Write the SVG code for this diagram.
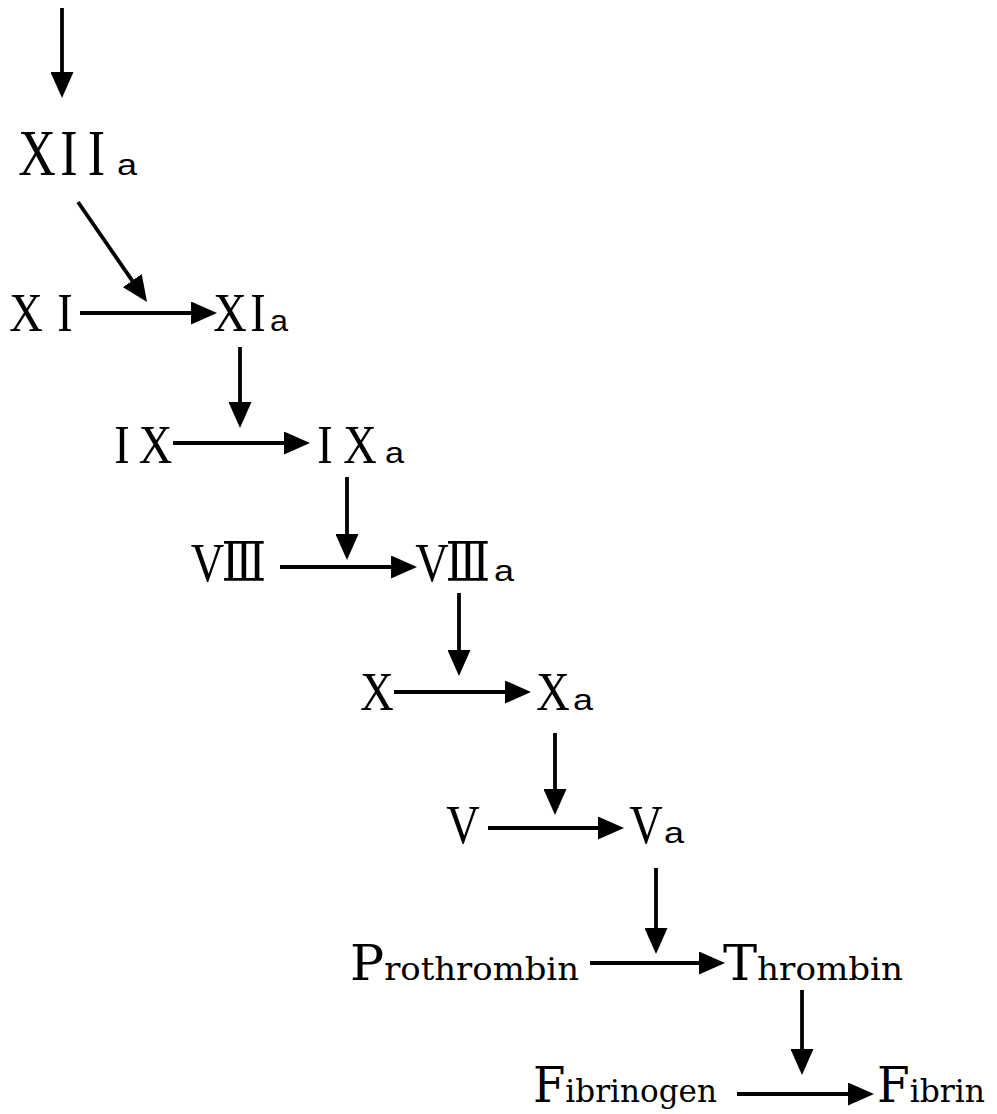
<svg xmlns="http://www.w3.org/2000/svg" width="997" height="1114" viewBox="0 0 997 1114">
<style>
.rn{font-family:"Liberation Serif","DejaVu Serif",serif;font-size:54px;fill:#000;text-anchor:middle}
.sub{font-family:"Liberation Sans","DejaVu Sans",sans-serif;font-size:29px;fill:#000}
.wd{font-family:"DejaVu Serif","Liberation Serif",serif;fill:#000}
.cap{font-size:48px}
.lc{font-size:32px}
.ar{stroke:#000;stroke-width:3.8;fill:none;marker-end:url(#ah)}
</style>
<defs>
<marker id="ah" markerUnits="userSpaceOnUse" markerWidth="26" markerHeight="23" refX="20" refY="11.5" orient="auto">
<path d="M0,0 L26,11.5 L0,23 Z" fill="#000"/>
</marker>
</defs>
<rect width="997" height="1114" fill="#fff"/>
<g id="connectors">
<line class="ar" x1="62" y1="8" x2="62" y2="92"/>
<line class="ar" x1="78" y1="202" x2="143.6" y2="297.1"/>
<line class="ar" x1="80" y1="313" x2="211" y2="313"/>
<line class="ar" x1="240" y1="347" x2="240" y2="422"/>
<line class="ar" x1="173" y1="443" x2="304" y2="443"/>
<line class="ar" x1="347" y1="477" x2="347" y2="554"/>
<line class="ar" x1="280" y1="567" x2="411" y2="567"/>
<line class="ar" x1="459" y1="593" x2="459" y2="670"/>
<line class="ar" x1="394" y1="692" x2="525" y2="692"/>
<line class="ar" x1="555" y1="733" x2="555" y2="809"/>
<line class="ar" x1="488" y1="828" x2="618" y2="828"/>
<line class="ar" x1="656" y1="868" x2="656" y2="948"/>
<line class="ar" x1="590" y1="963" x2="719" y2="963"/>
<line class="ar" x1="802" y1="990" x2="802" y2="1069"/>
<line class="ar" x1="737" y1="1094" x2="868" y2="1094"/>
</g>
<g id="XIIa">
<text class="rn" style="font-size:65px" transform="translate(0,175) scale(0.8,1)" x="46.25 86.25 120.6" y="0">XII</text>
<text class="sub" x="117" y="175" textLength="20" lengthAdjust="spacingAndGlyphs">a</text>
</g>
<g id="XI">
<text class="rn" transform="translate(0,331) scale(0.86,1)" x="30.23 75.58" y="0">XI</text>
</g>
<g id="XIa">
<text class="rn" transform="translate(0,331) scale(0.86,1)" x="267.44 300" y="0">XI</text>
<text class="sub" x="270" y="331" textLength="18" lengthAdjust="spacingAndGlyphs">a</text>
</g>
<g id="IX">
<text class="rn" transform="translate(0,463) scale(0.86,1)" x="141.86 180.81" y="0">IX</text>
</g>
<g id="IXa">
<text class="rn" transform="translate(0,463) scale(0.86,1)" x="377.91 418.6" y="0">IX</text>
<text class="sub" x="385" y="463" textLength="19" lengthAdjust="spacingAndGlyphs">a</text>
</g>
<g id="VIII">
<text class="rn" transform="translate(0,581) scale(0.86,1)" x="241.28 283.72" y="0">VⅢ</text>
</g>
<g id="VIIIa">
<text class="rn" transform="translate(0,581) scale(0.86,1)" x="502.33 544.19" y="0">VⅢ</text>
<text class="sub" x="494" y="581" textLength="20" lengthAdjust="spacingAndGlyphs">a</text>
</g>
<g id="X">
<text class="rn" transform="translate(0,710) scale(0.86,1)" x="438.37" y="0">X</text>
</g>
<g id="Xa">
<text class="rn" transform="translate(0,710) scale(0.86,1)" x="643.02" y="0">X</text>
<text class="sub" x="573" y="710" textLength="20" lengthAdjust="spacingAndGlyphs">a</text>
</g>
<g id="V">
<text class="rn" transform="translate(0,843) scale(0.86,1)" x="538.37" y="0">V</text>
</g>
<g id="Va">
<text class="rn" transform="translate(0,843) scale(0.86,1)" x="751.16" y="0">V</text>
<text class="sub" x="664" y="843" textLength="20" lengthAdjust="spacingAndGlyphs">a</text>
</g>
<g id="Prothrombin">
<text class="wd" x="350" y="980" textLength="229" lengthAdjust="spacingAndGlyphs"><tspan class="cap">P</tspan><tspan class="lc">rothrombin</tspan></text>
</g>
<g id="Thrombin">
<text class="wd" x="723" y="980" textLength="180" lengthAdjust="spacingAndGlyphs"><tspan class="cap">T</tspan><tspan class="lc">hrombin</tspan></text>
</g>
<g id="Fibrinogen">
<text class="wd" x="533" y="1102" textLength="184" lengthAdjust="spacingAndGlyphs"><tspan class="cap">F</tspan><tspan class="lc">ibrinogen</tspan></text>
</g>
<g id="Fibrin">
<text class="wd" x="877" y="1102" textLength="108" lengthAdjust="spacingAndGlyphs"><tspan class="cap">F</tspan><tspan class="lc">ibrin</tspan></text>
</g>
</svg>
